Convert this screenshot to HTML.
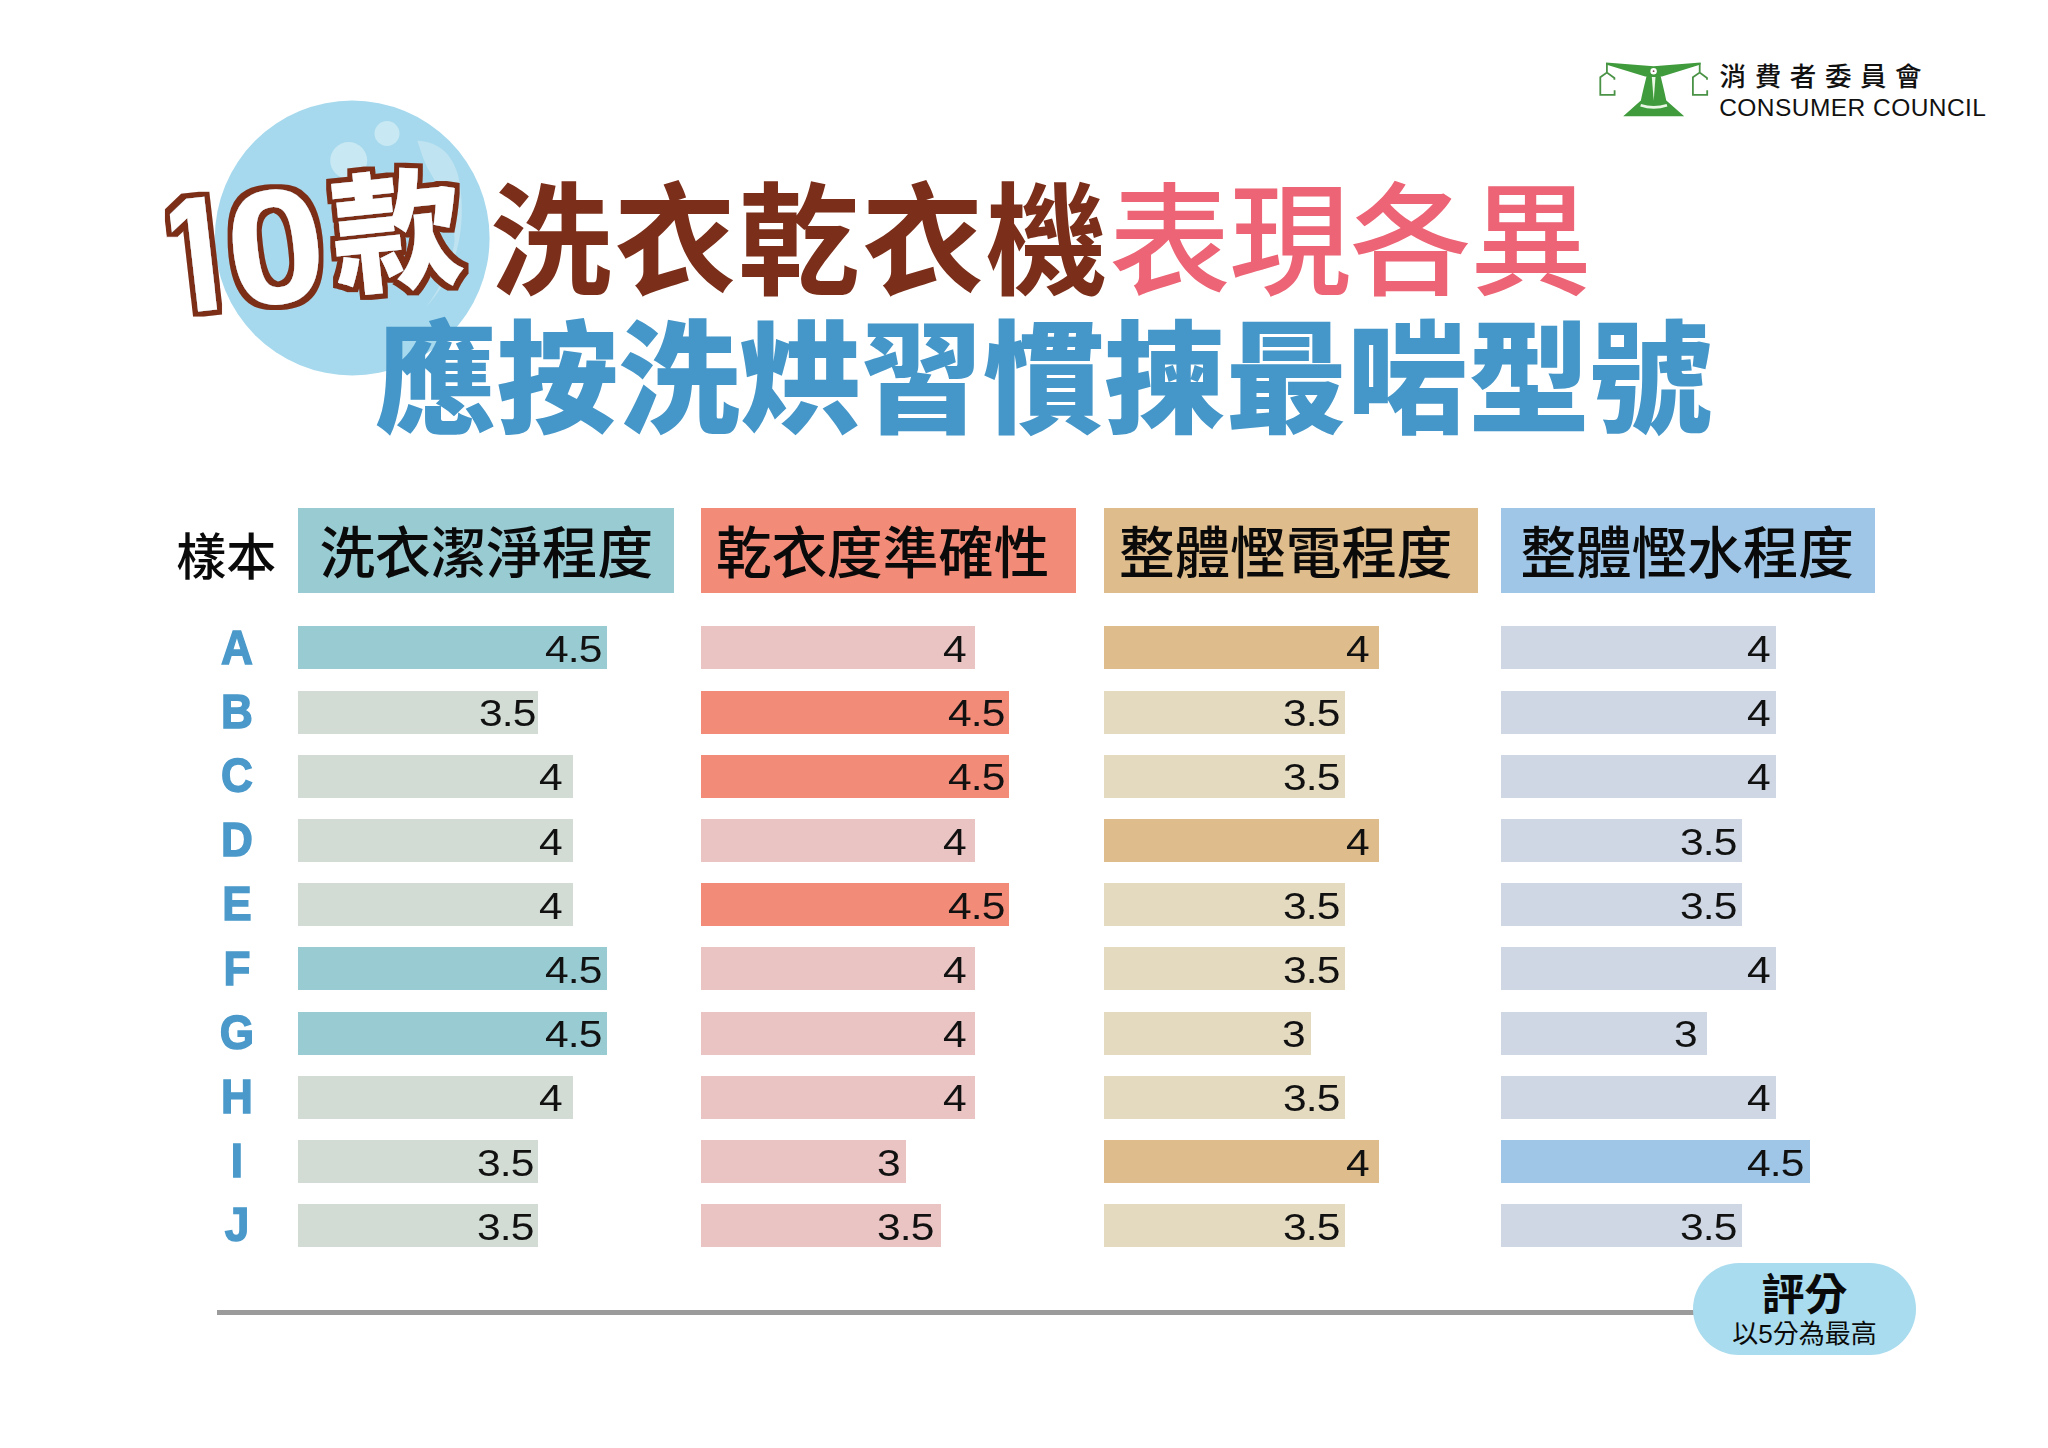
<!DOCTYPE html>
<html lang="zh-Hant">
<head>
<meta charset="utf-8">
<title>10款洗衣乾衣機表現各異</title>
<style>
html,body{margin:0;padding:0;background:#fff;}
body{width:2048px;height:1448px;position:relative;overflow:hidden;font-family:"Liberation Sans","Noto Sans CJK TC",sans-serif;}
.abs{position:absolute;}
.hd{position:absolute;top:508px;height:85px;}
.ht{position:absolute;top:511.6px;height:85px;line-height:85px;font-family:"Liberation Sans","Noto Sans CJK TC",sans-serif;font-weight:500;font-size:55.6px;color:#0a0a0a;white-space:nowrap;}
.bar{position:absolute;height:43px;}
.num{position:absolute;height:43px;line-height:43px;font-family:"Liberation Sans",sans-serif;font-size:37px;letter-spacing:-0.8px;color:#111;white-space:nowrap;transform:scaleX(1.15);transform-origin:0 50%;}
.let{position:absolute;left:187px;width:100px;text-align:center;font-family:"Liberation Sans",sans-serif;font-weight:700;font-size:49px;color:#4a99ca;-webkit-text-stroke:1.5px #4a99ca;height:43px;line-height:43px;transform:scaleX(0.9);}
.sample{position:absolute;left:176.3px;top:515.7px;height:85px;line-height:85px;font-size:50px;font-weight:500;color:#0a0a0a;font-family:"Liberation Sans","Noto Sans CJK TC",sans-serif;white-space:nowrap;}
.rule{position:absolute;left:216.6px;top:1310.1px;width:1490px;height:4.8px;background:#9b9b9b;}
.pill{position:absolute;left:1692.8px;top:1262.8px;width:223.4px;height:92.4px;border-radius:46.2px;background:#a9dcee;text-align:center;font-family:"Liberation Sans","Noto Sans CJK TC",sans-serif;color:#0a0a0a;}
.pill .t1{position:absolute;left:0;right:0;top:4px;font-size:43px;font-weight:700;line-height:56px;}
.pill .t2{position:absolute;left:0;right:0;top:54px;font-size:26px;font-weight:400;line-height:34px;}
</style>
</head>
<body>
<svg class="abs" style="left:0;top:0" width="2048" height="480" viewBox="0 0 2048 480">
  <defs>
    <filter id="ol" x="-10%" y="-10%" width="120%" height="120%">
      <feMorphology in="SourceAlpha" operator="dilate" radius="5" result="d"/>
      <feFlood flood-color="#7b2e19"/>
      <feComposite in2="d" operator="in" result="o"/>
      <feMerge><feMergeNode in="o"/><feMergeNode in="SourceGraphic"/></feMerge>
    </filter>
    <clipPath id="c1"><rect x="18.5" y="-125" width="44" height="107"/><rect x="38.6" y="-19" width="22.5" height="21"/></clipPath>
  </defs>
  <!-- bubble -->
  <circle cx="352.2" cy="238" r="137.4" fill="#a6d9ed"/>
  <circle cx="387" cy="133.5" r="12.5" fill="#c8e8f3"/>
  <circle cx="348.7" cy="160.5" r="18.5" fill="#c8e8f3"/>
  <path d="M417.3,140.7 C437,141 452,153 458,175 C464,200 463,232 455,256 C448,278 438,295 426.2,306.5 C438,292 450,268 454,245 C457,228 447,200 427.6,168.3 C424,161 421,152 417.3,140.7 Z" fill="#bfe3f1"/>
  <!-- headline -->
  <g font-family="'Liberation Sans','Noto Sans CJK TC',sans-serif">
    <text x="490.1" y="285" font-size="121.5" font-weight="700" fill="#7b2e19" letter-spacing="2.4">洗衣乾衣機</text>
    <text x="1109" y="285" font-size="121.5" font-weight="500" fill="#ec6475" letter-spacing="-1.1">表現各異</text>
    <text x="375" y="423" font-size="121.5" font-weight="900" fill="#4697c9">應按洗烘習慣揀最啱型號</text>
    <g filter="url(#ol)" fill="#fff" font-weight="700">
      <g transform="translate(207.5 310.4) rotate(-6.5) scale(0.85 1) translate(-49.8 0)"><text x="0" y="0" font-size="165" clip-path="url(#c1)">1</text></g>
      <g transform="translate(275.7 247.3) rotate(-6.5) scale(1.09 1)"><text x="-45.2" y="56.1" font-size="163">0</text></g>
      <g transform="translate(396.5 231.6) rotate(-6)"><text x="-65" y="47.7" font-size="130" font-weight="900">款</text></g>
    </g>
  </g>
  <!-- logo -->
  <g fill="#3f9b3c">
    <path d="M1606,62.4 L1653.6,66.3 L1700.6,62.4 L1700.6,64.4 L1662,76.6 L1645.2,76.6 L1606,64.4 Z"/>
    <path d="M1646.6,76 C1649,73.5 1658.2,73.5 1660.6,76 C1662.5,84 1665,94 1666.3,100.5 L1684.2,116.2 L1623.2,116.2 L1640.9,100.5 C1642.2,94 1644.7,84 1646.6,76 Z"/>
  </g>
  <circle cx="1653.6" cy="71.2" r="3.2" fill="#fff"/>
  <circle cx="1653.6" cy="71.2" r="0.9" fill="#7a4a4a"/>
  <path d="M1651.8,77 L1655.5,77 L1653.7,100.4 Z" fill="#e9f7e4"/>
  <path d="M1640.6,105.2 Q1653.7,109.6 1667,105.2" fill="none" stroke="#e9f7e4" stroke-width="2.6"/>
  <g fill="none" stroke="#4a9346" stroke-width="1.8" stroke-linejoin="miter">
    <path d="M1606.9,63 L1606.9,72.6 M1614.4,79.8 L1614.4,78 L1606.9,72.6 L1600.3,77.3 L1600.3,94.8 L1614.6,94.8 L1614.6,90.3"/>
    <path d="M1699.7,63 L1699.7,72.6 M1707,79.8 L1707,78 L1699.7,72.6 L1692.9,77.3 L1692.9,94.8 L1707.2,94.8 L1707.2,90.3"/>
  </g>
  <text x="1719.6" y="86.2" font-family="'Liberation Sans','Noto Sans CJK TC',sans-serif" font-size="26.5" font-weight="500" letter-spacing="8.6" fill="#111">消費者委員會</text>
  <text x="1719.2" y="115.8" font-family="'Liberation Sans',sans-serif" font-size="24.5" font-weight="400" fill="#111" textLength="266.8" lengthAdjust="spacing">CONSUMER COUNCIL</text>
</svg>
<div class="sample">樣本</div>
<div class="hd" style="left:298.2px;width:375.5px;background:#98cbd2"></div>
<div class="ht" style="left:319.5px">洗衣潔淨程度</div>
<div class="hd" style="left:700.5px;width:375.4px;background:#f28b78"></div>
<div class="ht" style="left:715.9px">乾衣度準確性</div>
<div class="hd" style="left:1104.2px;width:373.8px;background:#dfbc8b"></div>
<div class="ht" style="left:1118.9px">整體慳電程度</div>
<div class="hd" style="left:1501.3px;width:373.7px;background:#9fc6e6"></div>
<div class="ht" style="left:1520.4px">整體慳水程度</div>
<div class="let" style="top:625.6px">A</div>
<div class="bar" style="left:298.2px;top:626.3px;width:308.7px;background:#98cbd2"></div>
<div class="num" style="left:545.2px;top:627.9px">4.5</div>
<div class="bar" style="left:700.5px;top:626.3px;width:274.4px;background:#e9c4c3"></div>
<div class="num" style="left:943.0px;top:627.9px">4</div>
<div class="bar" style="left:1104.2px;top:626.3px;width:275.2px;background:#dfbc8b"></div>
<div class="num" style="left:1345.6px;top:627.9px">4</div>
<div class="bar" style="left:1501.3px;top:626.3px;width:274.8px;background:#cfd7e4"></div>
<div class="num" style="left:1746.7px;top:627.9px">4</div>
<div class="let" style="top:689.8px">B</div>
<div class="bar" style="left:298.2px;top:690.5px;width:240.1px;background:#d2dcd4"></div>
<div class="num" style="left:479.4px;top:692.1px">3.5</div>
<div class="bar" style="left:700.5px;top:690.5px;width:308.7px;background:#f28b78"></div>
<div class="num" style="left:947.5px;top:692.1px">4.5</div>
<div class="bar" style="left:1104.2px;top:690.5px;width:240.8px;background:#e4dac0"></div>
<div class="num" style="left:1282.7px;top:692.1px">3.5</div>
<div class="bar" style="left:1501.3px;top:690.5px;width:274.8px;background:#cfd7e4"></div>
<div class="num" style="left:1746.7px;top:692.1px">4</div>
<div class="let" style="top:754.0px">C</div>
<div class="bar" style="left:298.2px;top:754.7px;width:274.4px;background:#d2dcd4"></div>
<div class="num" style="left:538.6px;top:756.3px">4</div>
<div class="bar" style="left:700.5px;top:754.7px;width:308.7px;background:#f28b78"></div>
<div class="num" style="left:947.5px;top:756.3px">4.5</div>
<div class="bar" style="left:1104.2px;top:754.7px;width:240.8px;background:#e4dac0"></div>
<div class="num" style="left:1282.7px;top:756.3px">3.5</div>
<div class="bar" style="left:1501.3px;top:754.7px;width:274.8px;background:#cfd7e4"></div>
<div class="num" style="left:1746.7px;top:756.3px">4</div>
<div class="let" style="top:818.2px">D</div>
<div class="bar" style="left:298.2px;top:818.9px;width:274.4px;background:#d2dcd4"></div>
<div class="num" style="left:538.6px;top:820.5px">4</div>
<div class="bar" style="left:700.5px;top:818.9px;width:274.4px;background:#e9c4c3"></div>
<div class="num" style="left:943.0px;top:820.5px">4</div>
<div class="bar" style="left:1104.2px;top:818.9px;width:275.2px;background:#dfbc8b"></div>
<div class="num" style="left:1345.6px;top:820.5px">4</div>
<div class="bar" style="left:1501.3px;top:818.9px;width:240.5px;background:#cfd7e4"></div>
<div class="num" style="left:1679.8px;top:820.5px">3.5</div>
<div class="let" style="top:882.4px">E</div>
<div class="bar" style="left:298.2px;top:883.1px;width:274.4px;background:#d2dcd4"></div>
<div class="num" style="left:538.6px;top:884.7px">4</div>
<div class="bar" style="left:700.5px;top:883.1px;width:308.7px;background:#f28b78"></div>
<div class="num" style="left:947.5px;top:884.7px">4.5</div>
<div class="bar" style="left:1104.2px;top:883.1px;width:240.8px;background:#e4dac0"></div>
<div class="num" style="left:1282.7px;top:884.7px">3.5</div>
<div class="bar" style="left:1501.3px;top:883.1px;width:240.5px;background:#cfd7e4"></div>
<div class="num" style="left:1679.8px;top:884.7px">3.5</div>
<div class="let" style="top:946.6px">F</div>
<div class="bar" style="left:298.2px;top:947.3px;width:308.7px;background:#98cbd2"></div>
<div class="num" style="left:545.2px;top:948.9px">4.5</div>
<div class="bar" style="left:700.5px;top:947.3px;width:274.4px;background:#e9c4c3"></div>
<div class="num" style="left:943.0px;top:948.9px">4</div>
<div class="bar" style="left:1104.2px;top:947.3px;width:240.8px;background:#e4dac0"></div>
<div class="num" style="left:1282.7px;top:948.9px">3.5</div>
<div class="bar" style="left:1501.3px;top:947.3px;width:274.8px;background:#cfd7e4"></div>
<div class="num" style="left:1746.7px;top:948.9px">4</div>
<div class="let" style="top:1010.8px">G</div>
<div class="bar" style="left:298.2px;top:1011.5px;width:308.7px;background:#98cbd2"></div>
<div class="num" style="left:545.2px;top:1013.1px">4.5</div>
<div class="bar" style="left:700.5px;top:1011.5px;width:274.4px;background:#e9c4c3"></div>
<div class="num" style="left:943.0px;top:1013.1px">4</div>
<div class="bar" style="left:1104.2px;top:1011.5px;width:206.4px;background:#e4dac0"></div>
<div class="num" style="left:1281.5px;top:1013.1px">3</div>
<div class="bar" style="left:1501.3px;top:1011.5px;width:206.1px;background:#cfd7e4"></div>
<div class="num" style="left:1674.3px;top:1013.1px">3</div>
<div class="let" style="top:1075.0px">H</div>
<div class="bar" style="left:298.2px;top:1075.7px;width:274.4px;background:#d2dcd4"></div>
<div class="num" style="left:538.6px;top:1077.3px">4</div>
<div class="bar" style="left:700.5px;top:1075.7px;width:274.4px;background:#e9c4c3"></div>
<div class="num" style="left:943.0px;top:1077.3px">4</div>
<div class="bar" style="left:1104.2px;top:1075.7px;width:240.8px;background:#e4dac0"></div>
<div class="num" style="left:1282.7px;top:1077.3px">3.5</div>
<div class="bar" style="left:1501.3px;top:1075.7px;width:274.8px;background:#cfd7e4"></div>
<div class="num" style="left:1746.7px;top:1077.3px">4</div>
<div class="let" style="top:1139.2px">I</div>
<div class="bar" style="left:298.2px;top:1139.9px;width:240.1px;background:#d2dcd4"></div>
<div class="num" style="left:477.2px;top:1141.5px">3.5</div>
<div class="bar" style="left:700.5px;top:1139.9px;width:205.8px;background:#e9c4c3"></div>
<div class="num" style="left:876.8px;top:1141.5px">3</div>
<div class="bar" style="left:1104.2px;top:1139.9px;width:275.2px;background:#dfbc8b"></div>
<div class="num" style="left:1345.6px;top:1141.5px">4</div>
<div class="bar" style="left:1501.3px;top:1139.9px;width:309.2px;background:#9fc6e6"></div>
<div class="num" style="left:1747.4px;top:1141.5px">4.5</div>
<div class="let" style="top:1203.4px">J</div>
<div class="bar" style="left:298.2px;top:1204.1px;width:240.1px;background:#d2dcd4"></div>
<div class="num" style="left:477.2px;top:1205.7px">3.5</div>
<div class="bar" style="left:700.5px;top:1204.1px;width:240.1px;background:#e9c4c3"></div>
<div class="num" style="left:876.8px;top:1205.7px">3.5</div>
<div class="bar" style="left:1104.2px;top:1204.1px;width:240.8px;background:#e4dac0"></div>
<div class="num" style="left:1282.7px;top:1205.7px">3.5</div>
<div class="bar" style="left:1501.3px;top:1204.1px;width:240.5px;background:#cfd7e4"></div>
<div class="num" style="left:1679.8px;top:1205.7px">3.5</div>
<div class="rule"></div>
<div class="pill"><div class="t1">評分</div><div class="t2">以5分為最高</div></div>
</body>
</html>
